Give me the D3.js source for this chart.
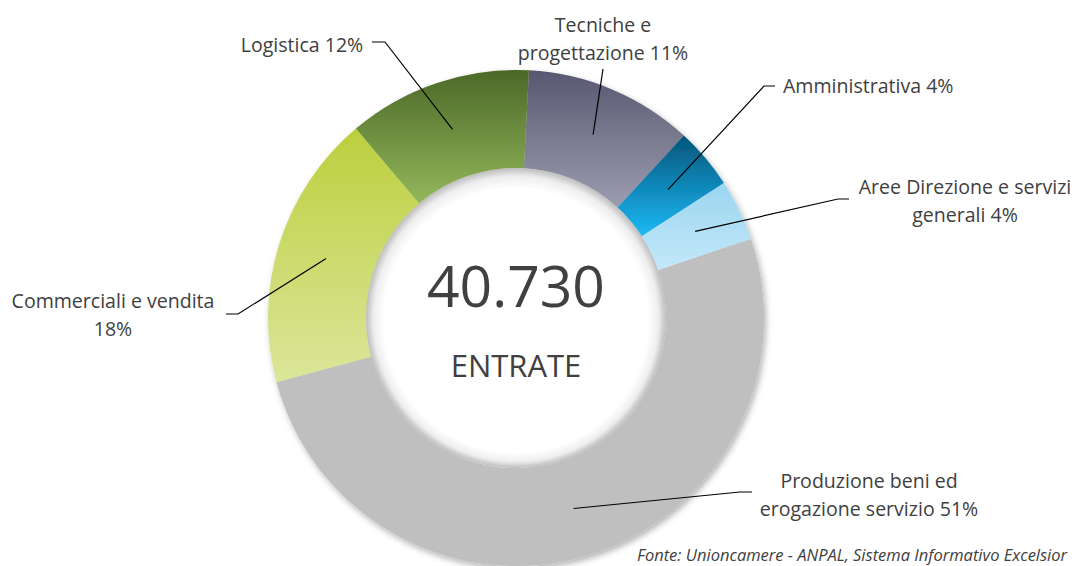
<!DOCTYPE html>
<html>
<head>
<meta charset="utf-8">
<script src="https://cdn.jsdelivr.net/npm/d3@7"></script>
<style>
  html, body { margin: 0; padding: 0; background: #ffffff; }
  svg { display: block; }
</style>
</head>
<body>
<svg id="chart" width="1074" height="566"></svg>
<script>
// ---- data ----
const categories = [
  "Tecniche e progettazione",
  "Amministrativa",
  "Aree Direzione e servizi generali",
  "Produzione beni ed erogazione servizio",
  "Commerciali e vendita",
  "Logistica"
];
const shares = [11, 4, 4, 51, 18, 12];
const labelLines = [
  ["Tecniche e", "progettazione 11%"],
  ["Amministrativa 4%"],
  ["Aree Direzione e servizi", "generali 4%"],
  ["Produzione beni ed", "erogazione servizio 51%"],
  ["Commerciali e vendita", "18%"],
  ["Logistica 12%"]
];
const totalLabel = "40.730";
const totalCaption = "ENTRATE";
const sourceNote = "Fonte: Unioncamere - ANPAL, Sistema Informativo Excelsior";

// ---- styles / layout ----
const gradColors = [
  ["#575770", "#9d9db0"],
  ["#03547a", "#1cbaf6"],
  ["#9bd5ef", "#c3e8f9"],
  ["#bfbfbf", "#bfbfbf"],
  ["#bccf3e", "#dbe69a"],
  ["#4c6828", "#93b85a"]
];
const cx = 516, cy = 318, rOuter = 248, rInner = 150;
const startOffset = 3 * Math.PI / 180;
const textColor = "#404040";
const labelFont = "Open Sans";
// text anchor x, first baseline y, text-anchor, leader elbow points (label side)
const labelLayout = [
  { x: 603, y: 32, anchor: "middle", elbow: [[603, 69]] },
  { x: 783, y: 93, anchor: "start", elbow: [[775, 86], [764, 86]] },
  { x: 965, y: 194, anchor: "middle", elbow: [[849, 199], [838, 199]] },
  { x: 869, y: 488, anchor: "middle", elbow: [[752, 492], [740, 492]] },
  { x: 113, y: 308, anchor: "middle", elbow: [[226, 314], [238, 314]] },
  { x: 302, y: 52, anchor: "middle", elbow: [[372, 42], [385, 42]] }
];

const svg = d3.select("#chart");
const defs = svg.append("defs");

// fit label font size to reference width of one line
const probe = svg.append("text").attr("font-family", labelFont).attr("font-size", 100)
  .text("Commerciali e vendita");
const labelSize = 100 * 203 / probe.node().getComputedTextLength();
probe.remove();

gradColors.forEach((c, i) => {
  const g = defs.append("linearGradient").attr("id", "g" + i)
    .attr("x1", 0).attr("y1", 0).attr("x2", 0).attr("y2", 1);
  g.append("stop").attr("offset", "0%").attr("stop-color", c[0]);
  g.append("stop").attr("offset", "100%").attr("stop-color", c[1]);
});

const shadow = defs.append("filter").attr("id", "shadow")
  .attr("x", "-10%").attr("y", "-10%").attr("width", "120%").attr("height", "120%");
shadow.append("feDropShadow").attr("dx", 2).attr("dy", 3).attr("stdDeviation", 3)
  .attr("flood-color", "#000").attr("flood-opacity", 0.3);

const hole = defs.append("radialGradient").attr("id", "hole")
  .attr("cx", "50%").attr("cy", "50%").attr("r", "50%")
  .attr("fx", "50%").attr("fy", "57%");
hole.append("stop").attr("offset", "0.88").attr("stop-color", "#ffffff");
hole.append("stop").attr("offset", "0.95").attr("stop-color", "#eeeeee");
hole.append("stop").attr("offset", "1").attr("stop-color", "#bdbdbd");

const pie = d3.pie().sort(null).value(d => d)
  .startAngle(startOffset).endAngle(startOffset + 2 * Math.PI);
const arcs = pie(shares);
const arc = d3.arc().innerRadius(rInner).outerRadius(rOuter);

const g = svg.append("g").attr("transform", `translate(${cx},${cy})`);
const ring = g.append("g").attr("filter", "url(#shadow)");
ring.selectAll("path").data(arcs).join("path")
  .attr("d", arc)
  .attr("fill", (d, i) => `url(#g${i})`);

g.append("circle").attr("r", rInner).attr("fill", "url(#hole)");

// center text
g.append("text").attr("x", 0).attr("y", -11).attr("text-anchor", "middle")
  .attr("font-family", labelFont).attr("font-size", 57).attr("fill", textColor)
  .text(totalLabel);
g.append("text").attr("x", 0).attr("y", 59).attr("text-anchor", "middle")
  .attr("font-family", labelFont).attr("font-size", 31).attr("fill", textColor)
  .text(totalCaption);

// leader lines
const line = d3.line();
arcs.forEach((d, i) => {
  const c = arc.centroid(d);
  const pts = labelLayout[i].elbow.concat([[c[0] + cx, c[1] + cy]]);
  svg.append("path").attr("d", line(pts)).attr("fill", "none")
    .attr("stroke", "#000").attr("stroke-width", 1.2);
});

// labels
labelLines.forEach((lines, i) => {
  const L = labelLayout[i];
  const t = svg.append("text").attr("font-family", labelFont).attr("font-size", labelSize)
    .attr("fill", textColor).attr("text-anchor", L.anchor);
  lines.forEach((s, k) => {
    t.append("tspan").attr("x", L.x).attr("y", L.y + k * 28).text(s);
  });
});

// source note
svg.append("text").attr("x", 637).attr("y", 561)
  .attr("font-family", labelFont).attr("font-style", "italic").attr("font-size", 16.5)
  .attr("fill", textColor).text(sourceNote);
</script>
</body>
</html>
